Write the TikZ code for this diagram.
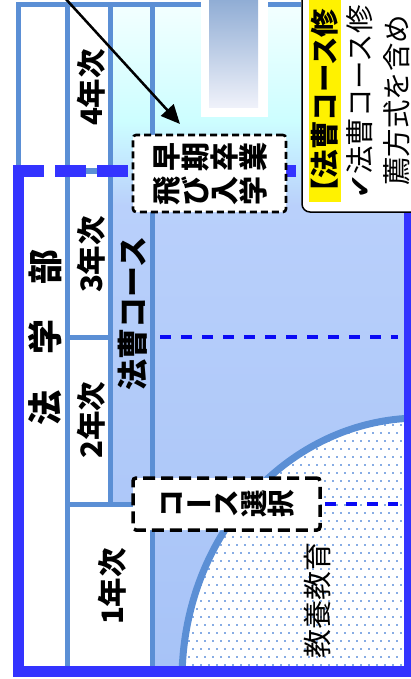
\documentclass[tikz,border=0pt]{standalone}
\usepackage{fontspec}
\newfontfamily\cjk{Noto Sans CJK JP}
\newfontfamily\djv{DejaVu Sans}
\usetikzlibrary{arrows.meta}
\definecolor{lb}{RGB}{91,143,213}
\definecolor{db}{RGB}{51,51,255}
\definecolor{bd}{RGB}{10,10,245}
\definecolor{dotc}{RGB}{135,172,228}
\definecolor{g1}{RGB}{243,255,255}
\definecolor{g2}{RGB}{205,254,255}
\definecolor{g3}{RGB}{198,238,255}
\definecolor{g4}{RGB}{185,208,251}
\definecolor{g5}{RGB}{167,195,247}
\definecolor{gt}{RGB}{140,170,211}
\definecolor{gb}{RGB}{240,242,250}
\pgfdeclareverticalshading{bgsh}{100bp}{color(0bp)=(g5); color(25bp)=(g5); color(59.9bp)=(g4); color(64.1bp)=(g3); color(66.3bp)=(g2); color(75bp)=(g1); color(100bp)=(g1)}
\newcommand\cs{\rule{0pt}{0.88em}\rule[-0.12em]{0pt}{0.12em}}
\newcommand\tc[1]{\rotatebox[origin=c]{90}{\cs#1}}
\newcommand\tn[1]{{\cs#1}}
\newcommand\fA{\cjk\bfseries\fontsize{35}{40}\selectfont}
\newcommand\fY{\cjk\bfseries\fontsize{29.5}{34}\selectfont}
\newcommand\fH{\cjk\bfseries\fontsize{31}{36}\selectfont}
\newcommand\fB{\cjk\bfseries\fontsize{29}{34}\selectfont}
\newcommand\fC{\cjk\bfseries\fontsize{27.5}{32}\selectfont}
\newcommand\fN{\cjk\fontsize{28.5}{34}\selectfont}
\newcommand\fNB{\cjk\bfseries\fontsize{28.5}{34}\selectfont}
\newcommand\fK{\cjk\fontsize{29}{34}\selectfont}
\tikzset{
  gridline/.style={draw=lb, line width=5pt},
  thickblue/.style={draw=db, line width=11pt},
  thindash/.style={draw=bd, line width=3.5pt, dash pattern=on 11pt off 10pt},
  tbox/.style={draw=black, fill=white, rounded corners=3pt, inner sep=0pt},
  rl/.style={rotate=90, inner sep=0pt},
}
\begin{document}
\begin{tikzpicture}[x=1pt,y=-1pt]
\useasboundingbox (0,0) rectangle (411,679);
\clip (0,0) rectangle (411,679);
% background gradient
\shade[shading=bgsh] (18.5,4.5) rectangle (411,671);
% white cells
\fill[white] (18.5,4.5) rectangle (67.5,671);
\fill[white] (67.5,4.5) rectangle (110,504);
\fill[white] (67.5,504) rectangle (152,671);
% liberal arts region
\begin{scope}
  \clip (152,0) rectangle (409,671);
  \fill[white] (420,680) ellipse [x radius=238, y radius=262];
  \begin{scope}
    \clip (420,680) ellipse [x radius=238, y radius=262];
    \foreach \j in {0,...,32} {
      \foreach \i in {0,...,29} {
        \fill[dotc] ({180+8*\i+4*mod(\j,2)},{416+8*\j}) rectangle ++(1.8,1.8);
      }
    }
  \end{scope}
  \draw[lb, line width=7pt] (420,680) ellipse [x radius=238, y radius=262];
\end{scope}
% light blue frame lines
\draw[gridline] (18.5,171) -- (18.5,4.5) -- (301,4.5);
\draw[gridline] (67.5,4.5) -- (67.5,671);
\draw[gridline] (110,4.5) -- (110,504);
\draw[gridline] (152,4.5) -- (152,671);
\draw[gridline] (67.5,171) -- (110,171);
\draw[gridline] (67.5,337) -- (110,337);
\draw[gridline] (67.5,504) -- (152,504);
% top gradient bar
\fill[white] (201,-5) rectangle (268,117);
\shade[top color=gt, bottom color=gb] (209,-5) rectangle (258,108);
% thin dashed lines
\draw[thindash] (160,337) -- (398,337);
\draw[thindash] (325,504) -- (398,504);
% thick blue frame
\draw[thickblue, dash pattern=on 31pt off 11pt] (13,171) -- (409,171);
\draw[thickblue, line join=miter] (18.5,166) -- (18.5,671) -- (409,671) -- (409,166);
% labels
\node[rl, font=\fA] (hg) at (45,337) {\cs 法\hspace{35.5pt}学\hspace{35.5pt}部};
\node[rl, font=\fY] (y4) at (91,87.5) {\cs 4年次};
\node[rl, font=\fY] (y3) at (91,254.5) {\cs 3年次};
\node[rl, font=\fY] (y2) at (91,420) {\cs 2年次};
\node[rl, font=\fY] (y1) at (112.5,586.5) {\cs 1年次};
\node[rl, font=\fH] (hc) at (132.5,313.5) {\cs 法曹コース};
\node[rl, font=\fK] (ky) at (317.5,600) {\cs 教養教育};
% boxes
\node[tbox, dash pattern=on 7pt off 4pt, line width=2.6pt, minimum width=153pt, minimum height=77pt, font=\fB, align=center] (early) at (209.5,173.5)
  {\tc{早}\tc{期}\tc{卒}\tc{業}\\\tc{飛}\tc{び}\tc{入}\tc{学}};
\node[tbox, dash pattern=on 12pt off 6pt, line width=3.5pt, minimum width=187pt, minimum height=52pt, font=\fC] (sel) at (226.5,504)
  {\tc{コ}\tn{ー}\tc{ス}\tc{選}\tc{択}};
% callout
\draw[fill=white, line width=1.5pt, rounded corners=8pt] (302,-20) rectangle (440,212);
\fill[yellow] (309,-5) rectangle (341,202);
\node[rl, anchor=west, font=\fNB] (t1) at (325,207) {\cs 【法曹コース修};
\node[rl, anchor=west, font=\fN] (t2) at (360,199) {\cs{\djv ✔}法曹コース修};
\node[rl, anchor=west, font=\fN] (t3) at (397,186) {\cs 薦方式を含め};
% arrow
\coordinate (aS) at (64,-3);
\coordinate (aE) at (180,124);
\draw[line width=2.5pt, -{Triangle[length=19pt,width=17pt]}] (aS) -- (aE);
\end{tikzpicture}
\end{document}
